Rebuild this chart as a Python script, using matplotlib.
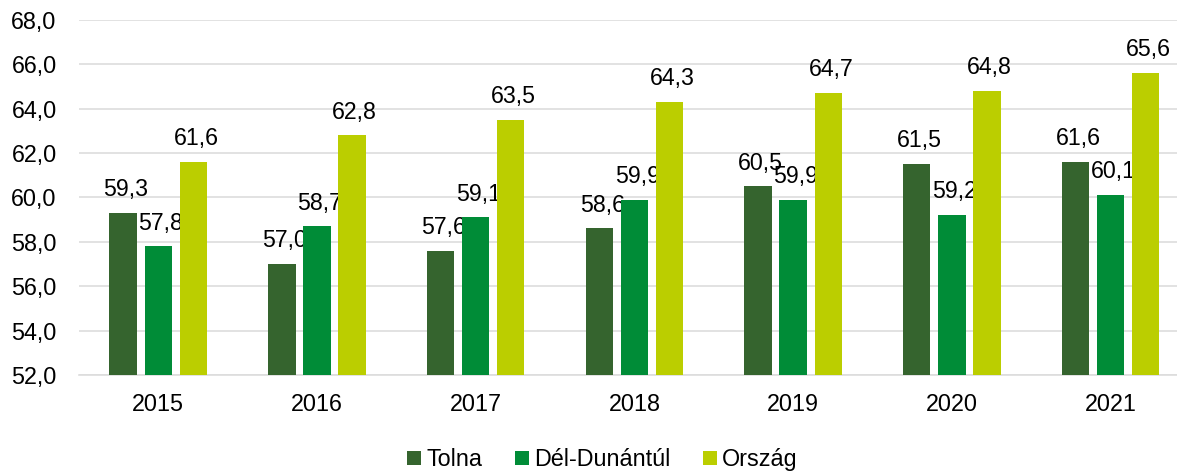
import matplotlib.pyplot as plt
import numpy as np

plt.rcParams['font.family'] = ['Liberation Sans', 'DejaVu Sans']

years = ["2015", "2016", "2017", "2018", "2019", "2020", "2021"]
tolna = [59.3, 57.0, 57.6, 58.6, 60.5, 61.5, 61.6]
del_dunantul = [57.8, 58.7, 59.1, 59.9, 59.9, 59.2, 60.1]
orszag = [61.6, 62.8, 63.5, 64.3, 64.7, 64.8, 65.6]

series = [("Tolna", tolna, "#35642E"),
          ("Dél-Dunántúl", del_dunantul, "#008C37"),
          ("Ország", orszag, "#BBCE00")]

fig = plt.figure(figsize=(11.77, 4.71), dpi=100)
ax = fig.add_axes([0.067, 0.204, 0.944, 0.754])

x = np.arange(len(years))
width = 0.172
step = 0.221

for i, (name, vals, col) in enumerate(series):
    pos = x + (i - 1) * step
    ax.bar(pos, np.array(vals) - 52, width, bottom=52, color=col, label=name, zorder=3)
    for p, v in zip(pos, vals):
        ax.annotate(f"{v:.1f}".replace(".", ","), (p, v), xytext=(2, 12),
                    textcoords="offset points", ha="center", va="baseline",
                    fontsize=16.7, color="black")

ax.set_ylim(52, 68)
ax.set_xlim(-0.5, 6.5)
ax.set_yticks(np.arange(52, 69, 2))
ax.set_yticklabels([f"{v:.1f}".replace(".", ",") for v in np.arange(52, 69, 2)])
ax.set_xticks(x)
ax.set_xticklabels(years)
ax.tick_params(length=0, labelsize=16.8, colors="black")
ax.tick_params(axis="x", pad=13)
ax.tick_params(axis="y", pad=16)
ax.grid(axis="y", color="#DDDDDD", linewidth=1.2, zorder=0)
for s in ["top", "right", "left"]:
    ax.spines[s].set_visible(False)
ax.spines["bottom"].set_color("#DDDDDD")
ax.spines["bottom"].set_linewidth(1.2)

fig.legend(loc="center", bbox_to_anchor=(0.512, 0.024), ncol=3, frameon=False,
           fontsize=16.8, handlelength=0.6, handleheight=0.6, handletextpad=0.22,
           columnspacing=1.4)

fig.savefig("out.png", dpi=100)
